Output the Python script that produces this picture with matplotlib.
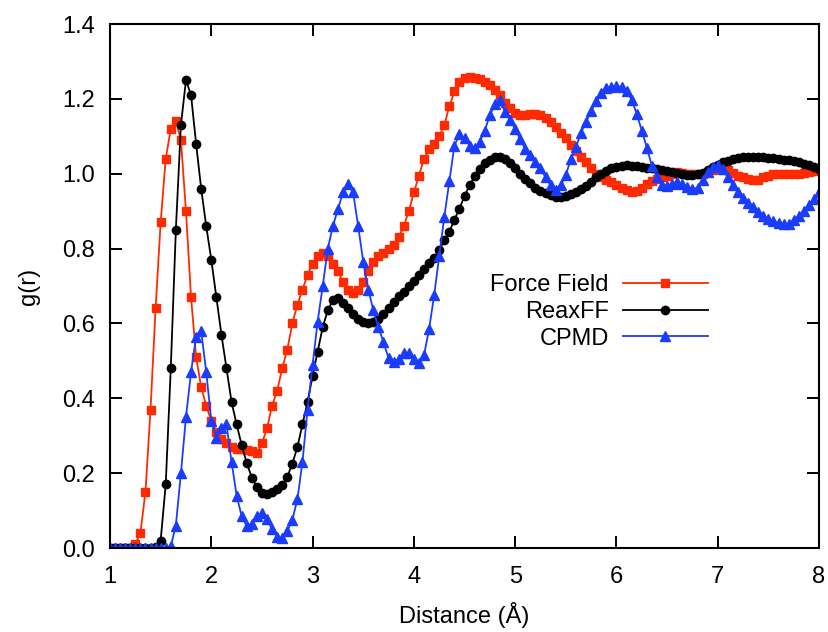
import numpy as np
import matplotlib
matplotlib.use("Agg")
import matplotlib.pyplot as plt

plt.rcParams['font.family'] = ['Liberation Sans', 'DejaVu Sans']

# radial distance grid (Angstrom), 0.05 spacing
r = np.round(np.arange(1.0, 8.0001, 0.05), 2)

force_field = [
    0.00, 0.00, 0.00, 0.00, 0.00, 0.01, 0.04, 0.15, 0.37, 0.64,
    0.87, 1.04, 1.12, 1.14, 1.09, 0.90, 0.67, 0.51, 0.43, 0.38,
    0.34, 0.31, 0.29, 0.28, 0.27, 0.265, 0.265, 0.263, 0.258, 0.253,
    0.28, 0.32, 0.38, 0.42, 0.48, 0.53, 0.60, 0.65, 0.69, 0.73,
    0.76, 0.78, 0.788, 0.78, 0.76, 0.74, 0.71, 0.69, 0.682, 0.689,
    0.71, 0.74, 0.765, 0.78, 0.788, 0.798, 0.81, 0.83, 0.86, 0.90,
    0.95, 0.995, 1.04, 1.065, 1.08, 1.10, 1.13, 1.18, 1.22, 1.245,
    1.256, 1.258, 1.257, 1.253, 1.245, 1.237, 1.225, 1.21, 1.19, 1.175,
    1.163, 1.157, 1.157, 1.16, 1.16, 1.157, 1.15, 1.137, 1.124, 1.11,
    1.095, 1.078, 1.062, 1.045, 1.03, 1.014, 1.0, 0.99, 0.984, 0.977,
    0.97, 0.963, 0.956, 0.952, 0.953, 0.962, 0.972, 0.98, 0.985, 0.99,
    0.995, 1.0, 1.004, 1.003, 1.0, 0.999, 1.0, 1.0, 1.005, 1.01,
    1.014, 1.012, 1.01, 1.003, 0.995, 0.99, 0.986, 0.984, 0.984, 0.99,
    0.995, 0.998, 1.0, 1.0, 1.0, 1.0, 1.0, 1.002, 1.004, 1.007,
    1.01,
]

reaxff = [
    0.00, 0.00, 0.00, 0.00, 0.00, 0.00, 0.00, 0.00, 0.00, 0.003,
    0.02, 0.17, 0.48, 0.85, 1.13, 1.25, 1.21, 1.08, 0.96, 0.86,
    0.77, 0.67, 0.57, 0.48, 0.39, 0.33, 0.275, 0.227, 0.188, 0.163,
    0.148, 0.144, 0.149, 0.157, 0.168, 0.19, 0.225, 0.27, 0.33, 0.39,
    0.46, 0.525, 0.59, 0.635, 0.663, 0.668, 0.655, 0.64, 0.625, 0.613,
    0.605, 0.601, 0.605, 0.612, 0.625, 0.641, 0.658, 0.673, 0.685, 0.70,
    0.713, 0.729, 0.746, 0.762, 0.776, 0.795, 0.822, 0.845, 0.877, 0.907,
    0.94, 0.97, 0.993, 1.012, 1.028, 1.038, 1.044, 1.045, 1.039, 1.028,
    1.014, 1.0, 0.985, 0.974, 0.963, 0.954, 0.948, 0.943, 0.939, 0.939,
    0.941, 0.945, 0.95, 0.958, 0.967, 0.978, 0.99, 1.0, 1.008, 1.015,
    1.019, 1.021, 1.022, 1.021, 1.02, 1.018, 1.016, 1.014, 1.012, 1.01,
    1.007, 1.004, 1.002, 0.999, 0.997, 0.996, 0.998, 1.002, 1.01, 1.018,
    1.024, 1.03, 1.035, 1.039, 1.042, 1.044, 1.046, 1.046, 1.046, 1.045,
    1.043, 1.041, 1.039, 1.038, 1.036, 1.034, 1.031, 1.027, 1.022, 1.017,
    1.012,
]

cpmd = [
    0.00, 0.00, 0.00, 0.00, 0.00, 0.00, 0.00, 0.00, 0.00, 0.00,
    0.00, 0.00, 0.005, 0.06, 0.20, 0.35, 0.47, 0.565, 0.58, 0.47,
    0.34, 0.295, 0.32, 0.33, 0.23, 0.14, 0.085, 0.058, 0.065, 0.085,
    0.093, 0.077, 0.05, 0.03, 0.027, 0.045, 0.075, 0.13, 0.23, 0.37,
    0.49, 0.605, 0.70, 0.80, 0.86, 0.905, 0.95, 0.972, 0.95, 0.86,
    0.765, 0.69, 0.635, 0.59, 0.55, 0.507, 0.497, 0.505, 0.52, 0.52,
    0.505, 0.493, 0.515, 0.585, 0.675, 0.78, 0.884, 0.98, 1.075, 1.105,
    1.095, 1.075, 1.07, 1.085, 1.115, 1.157, 1.185, 1.196, 1.165, 1.143,
    1.12, 1.092, 1.065, 1.05, 1.03, 1.014, 0.99, 0.969, 0.957, 0.969,
    0.996, 1.04, 1.071, 1.11, 1.138, 1.168, 1.193, 1.215, 1.228, 1.233,
    1.234, 1.232, 1.222, 1.198, 1.16, 1.115, 1.07, 1.02, 0.99, 0.97,
    0.966, 0.972, 0.978, 0.972, 0.964, 0.96, 0.962, 0.982, 1.005, 1.018,
    1.022, 1.012, 0.99, 0.97, 0.95, 0.936, 0.923, 0.912, 0.898, 0.886,
    0.879, 0.873, 0.868, 0.865, 0.866, 0.876, 0.888, 0.9, 0.916, 0.933,
    0.951,
]

x_ticks = [1, 2, 3, 4, 5, 6, 7, 8]
y_ticks = [0.0, 0.2, 0.4, 0.6, 0.8, 1.0, 1.2, 1.4]

fig = plt.figure(figsize=(8.29, 6.32), dpi=100)
ax = fig.add_axes([0.1327, 0.1329, 0.8553, 0.8291])

ax.plot(r, force_field, color='#ff2a00', marker='s', markersize=6.3,
        linewidth=1.3, label='Force Field')
ax.plot(r, reaxff, color='black', marker='o', markersize=6,
        linewidth=1.3, label='ReaxFF')
ax.plot(r, cpmd, color='#1a3cff', marker='^', markersize=6.8,
        linewidth=1.3, label='CPMD')

ax.set_xlim(1, 8)
ax.set_ylim(0, 1.4)
ax.set_xticks(x_ticks)
ax.set_yticks(y_ticks)
ax.set_yticklabels([f'{v:.1f}' for v in y_ticks])
ax.tick_params(direction='in', length=8.5, width=1.4, top=True, right=True,
               labelsize=17)
ax.tick_params(axis='x', pad=13)
ax.tick_params(axis='y', pad=11)
for s in ax.spines.values():
    s.set_linewidth(1.5)

ax.set_xlabel('Distance (Å)', fontsize=17, labelpad=10)
ax.set_ylabel('g(r)', fontsize=17, labelpad=16)

ax.legend(loc='upper right', bbox_to_anchor=(0.86, 0.545), frameon=False,
          markerfirst=False, numpoints=1, fontsize=17, handlelength=3.6,
          handletextpad=0.6, labelspacing=0.2, borderpad=0)

fig.savefig('out.png', dpi=100)
